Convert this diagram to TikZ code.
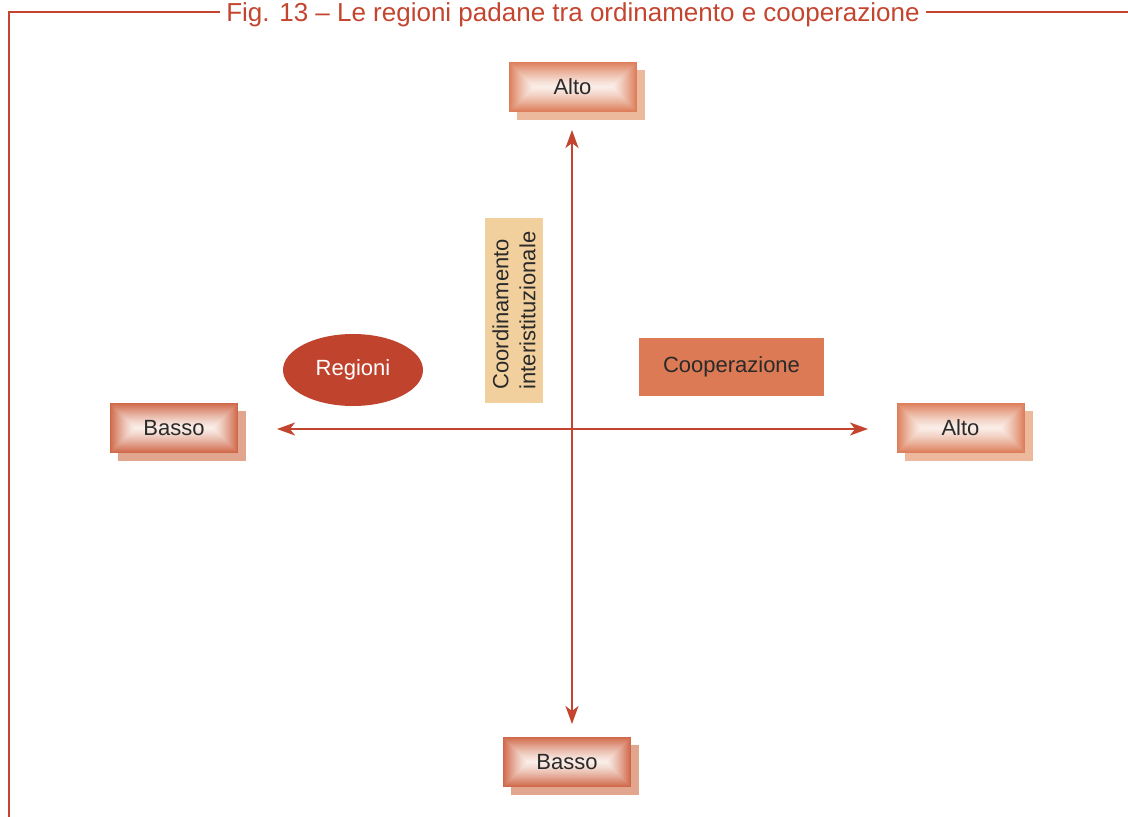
\documentclass[tikz,border=0pt]{standalone}
\usepackage{fontspec}
\setmainfont{Liberation Sans}
\usepackage{xcolor}
\usepackage{tikz}
\usetikzlibrary{arrows.meta,shapes.geometric,shadows,calc}

\definecolor{rosso}{HTML}{C4452F}
\definecolor{ovale}{HTML}{C0432E}
\definecolor{coop}{HTML}{DB7A54}
\definecolor{sabbia}{HTML}{F1D09E}
\definecolor{testo}{HTML}{2A2A2A}
\definecolor{altoedge}{HTML}{DD7D59}
\definecolor{altoshadow}{HTML}{EDB99D}
\definecolor{bassoedge}{HTML}{CF6849}
\definecolor{bassoshadow}{HTML}{E2A68E}
\definecolor{lume}{HTML}{FAEEE8}

\newcommand\pillowshade[1]{%
  \foreach \k in {0,...,24}{
    \pgfmathtruncatemacro\pct{100*(1-\k/25)^1.3}
    \fill [#1!\pct!lume]
      ($(path picture bounding box.south west)+(\k pt,\k pt)$) rectangle
      ($(path picture bounding box.north east)-(\k pt,\k pt)$);
  }
}

\begin{document}
\begin{tikzpicture}[x=1pt,y=-1pt]
      \tikzstyle{frame}=[draw=rosso, line width=2.4pt]
      \tikzstyle{axis}=[draw=rosso, line width=2.2pt, {Stealth[length=18pt,width=13pt,inset=5pt]}-{Stealth[length=18pt,width=13pt,inset=5pt]}]
      \tikzstyle{level}=[minimum width=128pt, minimum height=50pt, inner sep=0pt, text=testo, font=\fontsize{22}{26}\selectfont]
      \tikzstyle{alto}=[level, fill=altoedge, path picture={\pillowshade{altoedge}},
                        drop shadow={shadow xshift=8pt, shadow yshift=-8pt, fill=altoshadow, opacity=1}]
      \tikzstyle{basso}=[level, fill=bassoedge, path picture={\pillowshade{bassoedge}},
                         drop shadow={shadow xshift=8pt, shadow yshift=-8pt, fill=bassoshadow, opacity=1}]
      \tikzstyle{label}=[inner sep=0pt, font=\fontsize{22}{27}\selectfont]

      \useasboundingbox (0,0) rectangle (1128,817);

      \node [text=rosso, font=\fontsize{26}{28}\selectfont, inner sep=6pt] (title) at (573,15) {Fig. 13 -- Le regioni padane tra ordinamento e cooperazione};
      \coordinate (corner) at (9,12);
      \coordinate (rightend) at (1128,12);
      \draw [frame] (corner -| title.west) -- (corner) -- (9,817);
      \draw [frame] (corner -| title.east) -- (rightend);

      \node [alto] (altoV) at (572.5,87) {Alto};
      \node [basso] (bassoV) at (567,762) {Basso};
      \node [basso] (bassoH) at (174,428) {Basso};
      \node [alto] (altoH) at (960.5,428) {Alto};

      \coordinate (vtop) at (572,130);
      \coordinate (vbot) at (572,724);
      \coordinate (hleft) at (277,429);
      \coordinate (hright) at (868,429);
      \draw [axis] (vbot) -- (vtop);
      \draw [axis] (hleft) -- (hright);

      \node [label, ellipse, fill=ovale, text=white, minimum width=140pt, minimum height=72pt] (regioni) at (353,370) {Regioni};
      \node [label, fill=coop, text=testo, minimum width=185pt, minimum height=58pt] (coop) at (731.5,367) {Cooperazione};
      \node [label, fill=sabbia, text=testo, rotate=90, align=left, minimum width=185pt, minimum height=58pt] (coord) at (514,310.5) {Coordinamento\\interistituzionale};
\end{tikzpicture}
\end{document}
